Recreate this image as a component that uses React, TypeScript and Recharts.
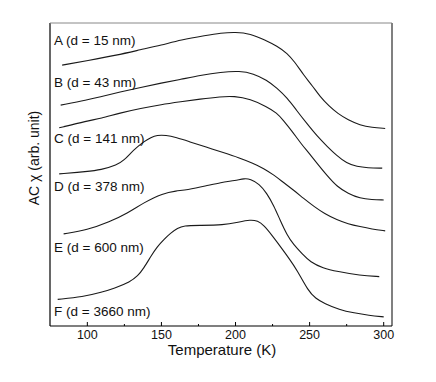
import { LineChart, Line, XAxis, YAxis, ReferenceLine } from "recharts";

// AC susceptibility vs temperature, curves offset vertically (arb. unit)
const curveA = [
  { t: 83, v: 8.61 }, { t: 100, v: 8.76 }, { t: 120, v: 8.94 }, { t: 136, v: 9.12 },
  { t: 150, v: 9.27 }, { t: 163, v: 9.44 }, { t: 180, v: 9.59 }, { t: 190, v: 9.67 },
  { t: 200, v: 9.7 }, { t: 210, v: 9.65 }, { t: 220, v: 9.44 }, { t: 228, v: 9.24 },
  { t: 235, v: 9.0 }, { t: 240, v: 8.71 }, { t: 246, v: 8.28 }, { t: 252, v: 7.92 },
  { t: 257, v: 7.57 }, { t: 263, v: 7.26 }, { t: 269, v: 7.01 }, { t: 276, v: 6.8 },
  { t: 284, v: 6.63 }, { t: 292, v: 6.55 }, { t: 301, v: 6.52 },
];
const curveB = [
  { t: 82, v: 7.29 }, { t: 100, v: 7.46 }, { t: 109, v: 7.57 }, { t: 122, v: 7.72 },
  { t: 136, v: 7.87 }, { t: 150, v: 8.02 }, { t: 163, v: 8.14 }, { t: 176, v: 8.27 },
  { t: 190, v: 8.38 }, { t: 203, v: 8.42 }, { t: 212, v: 8.33 }, { t: 221, v: 8.12 },
  { t: 228, v: 7.85 }, { t: 235, v: 7.52 }, { t: 241, v: 7.13 }, { t: 248, v: 6.69 },
  { t: 255, v: 6.27 }, { t: 262, v: 5.92 }, { t: 268, v: 5.64 }, { t: 275, v: 5.37 },
  { t: 282, v: 5.26 }, { t: 289, v: 5.22 }, { t: 299, v: 5.21 },
];
const curveC = [
  { t: 81, v: 6.54 }, { t: 100, v: 6.77 }, { t: 109, v: 6.85 }, { t: 122, v: 7.03 },
  { t: 136, v: 7.18 }, { t: 150, v: 7.31 }, { t: 163, v: 7.4 }, { t: 176, v: 7.49 },
  { t: 190, v: 7.57 }, { t: 199, v: 7.59 }, { t: 210, v: 7.49 }, { t: 221, v: 7.24 },
  { t: 228, v: 7.03 }, { t: 232, v: 6.8 }, { t: 238, v: 6.44 }, { t: 244, v: 6.03 },
  { t: 250, v: 5.68 }, { t: 255, v: 5.37 }, { t: 262, v: 4.95 }, { t: 268.5, v: 4.6 },
  { t: 276, v: 4.37 }, { t: 284, v: 4.21 }, { t: 292, v: 4.17 }, { t: 300, v: 4.16 },
];
const curveD = [
  { t: 81, v: 5.02 }, { t: 100, v: 5.1 }, { t: 109, v: 5.15 }, { t: 120, v: 5.31 },
  { t: 125, v: 5.48 }, { t: 129, v: 5.7 }, { t: 134, v: 5.92 }, { t: 138, v: 6.08 },
  { t: 143, v: 6.22 }, { t: 147, v: 6.3 }, { t: 153, v: 6.3 }, { t: 160, v: 6.22 },
  { t: 169, v: 6.08 }, { t: 180, v: 5.91 }, { t: 192, v: 5.72 }, { t: 202, v: 5.56 },
  { t: 212, v: 5.37 }, { t: 219, v: 5.2 }, { t: 226, v: 4.98 }, { t: 232, v: 4.75 },
  { t: 239, v: 4.49 }, { t: 246, v: 4.21 }, { t: 253, v: 3.94 }, { t: 260, v: 3.71 },
  { t: 268.5, v: 3.5 }, { t: 276, v: 3.37 }, { t: 284, v: 3.28 }, { t: 292, v: 3.2 },
  { t: 301, v: 3.14 },
];
const curveE = [
  { t: 84, v: 3.04 }, { t: 100, v: 3.17 }, { t: 115, v: 3.44 }, { t: 127, v: 3.72 },
  { t: 138, v: 4.07 }, { t: 151, v: 4.38 }, { t: 160, v: 4.46 }, { t: 167, v: 4.49 },
  { t: 180, v: 4.62 }, { t: 190, v: 4.74 }, { t: 200, v: 4.8 }, { t: 206, v: 4.87 },
  { t: 210, v: 4.85 }, { t: 216, v: 4.69 }, { t: 221, v: 4.39 }, { t: 226, v: 3.96 },
  { t: 230, v: 3.5 }, { t: 235, v: 2.98 }, { t: 239, v: 2.7 }, { t: 245, v: 2.38 },
  { t: 250.5, v: 2.11 }, { t: 259, v: 1.91 }, { t: 268.5, v: 1.8 }, { t: 284, v: 1.67 },
  { t: 297, v: 1.63 },
];
const curveF = [
  { t: 80, v: 0.88 }, { t: 97, v: 0.96 }, { t: 110, v: 1.12 }, { t: 118, v: 1.24 },
  { t: 129, v: 1.46 }, { t: 134, v: 1.65 }, { t: 138, v: 1.9 }, { t: 143, v: 2.31 },
  { t: 147, v: 2.61 }, { t: 152, v: 2.87 }, { t: 156, v: 3.06 }, { t: 161, v: 3.23 },
  { t: 165, v: 3.31 }, { t: 175, v: 3.32 }, { t: 192, v: 3.33 }, { t: 202, v: 3.43 },
  { t: 210, v: 3.51 }, { t: 215, v: 3.47 }, { t: 219, v: 3.33 }, { t: 225, v: 2.97 },
  { t: 230, v: 2.64 }, { t: 236, v: 2.24 }, { t: 241.5, v: 1.85 }, { t: 249, v: 1.16 },
  { t: 254, v: 0.91 }, { t: 260, v: 0.74 }, { t: 270, v: 0.54 }, { t: 280, v: 0.43 },
  { t: 290, v: 0.35 }, { t: 300, v: 0.3 },
];

const curves = [curveA, curveB, curveC, curveD, curveE, curveF];
const curveLabels = [
  "A (d = 15 nm)",
  "B (d = 43 nm)",
  "C (d = 141 nm)",
  "D (d = 378 nm)",
  "E (d = 600 nm)",
  "F (d = 3660 nm)",
];
const tempTicks = [100, 125, 150, 175, 200, 225, 250, 275, 300];
const xDomain = [74.8, 305.6];
const yDomain = [0, 10];

const FONT = "'Liberation Sans', Arial, Helvetica, sans-serif";
// baseline of each curve label in the overlay
const labelY = [44.5, 86.5, 143, 190.5, 251.5, 315.5];

const TempTick = (props: any) => {
  const { x, y, payload } = props;
  const major = payload.value % 50 === 0;
  return (
    <g>
      <line x1={x} x2={x} y1={y} y2={y - (major ? 4 : 2)} stroke="#000" strokeWidth={1} />
      {major && (
        <text x={x} y={y + 13} textAnchor="middle" fontSize={12.5} fontFamily={FONT} fill="#111">
          {payload.value}
        </text>
      )}
    </g>
  );
};

export default function App() {
  return (
    <div style={{ position: "absolute", left: 0, top: 0, width: 436, height: 382, background: "#fff" }}>
      <LineChart width={436} height={382} margin={{ top: 23, right: 44, bottom: 26, left: 50 }}>
        <XAxis
          type="number"
          dataKey="t"
          domain={xDomain}
          ticks={tempTicks}
          interval={0}
          allowDataOverflow
          height={30}
          tickSize={0}
          tickMargin={0}
          tick={<TempTick />}
          tickLine={false}
          axisLine={{ stroke: "#000", strokeWidth: 1.2 }}
        />
        <YAxis type="number" domain={yDomain} hide allowDataOverflow />
        <ReferenceLine x={xDomain[0]} stroke="#000" strokeWidth={1.2} />
        <ReferenceLine y={yDomain[1]} stroke="#888" strokeWidth={1} />
        <ReferenceLine x={xDomain[1]} stroke="#808080" strokeWidth={2} />
        {curves.map((c, i) => (
          <Line
            key={i}
            data={c}
            dataKey="v"
            type="basis"
            stroke="#1a1a1a"
            strokeWidth={1.1}
            dot={false}
            isAnimationActive={false}
          />
        ))}
      </LineChart>
      <svg width={436} height={382} style={{ position: "absolute", left: 0, top: 0, pointerEvents: "none" }}>
        {curveLabels.map((s, i) => (
          <text key={s} x={54} y={labelY[i]} fontSize={13.5} fontFamily={FONT} fill="#111">
            {s}
          </text>
        ))}
        <text x={222} y={355} textAnchor="middle" fontSize={15} fontFamily={FONT} fill="#111">
          Temperature (K)
        </text>
        <text
          x={39}
          y={158}
          transform="rotate(-90 39 158)"
          textAnchor="middle"
          fontSize={14}
          fontFamily={FONT}
          fill="#111"
        >
          AC χ (arb. unit)
        </text>
      </svg>
    </div>
  );
}
